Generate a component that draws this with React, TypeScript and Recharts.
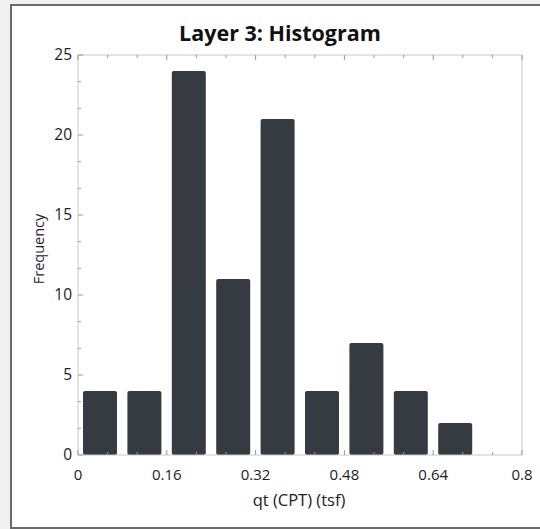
import React from "react";
import { BarChart, Bar, XAxis, YAxis } from "recharts";

// histogram bins (qt in tsf), bin width 0.08
const binCenters = [0.04, 0.12, 0.2, 0.28, 0.36, 0.44, 0.52, 0.6, 0.68, 0.76];
const frequency = [4, 4, 24, 11, 21, 4, 7, 4, 2, 0];
const xMajorTicks = [0, 0.16, 0.32, 0.48, 0.64, 0.8];
const yMajorTicks = [0, 5, 10, 15, 20, 25];

const data = binCenters.map((c, i) => ({ center: c, count: frequency[i] }));

// minor ticks sit at thirds between the majors
const withMinors = (majors: number[]) => {
  const out: number[] = [];
  majors.forEach((m, i) => {
    out.push(m);
    if (i < majors.length - 1) {
      const step = (majors[i + 1] - m) / 3;
      out.push(m + step, m + 2 * step);
    }
  });
  return out;
};
const xTicks = withMinors(xMajorTicks);
const yTicks = withMinors(yMajorTicks);

const FONT = "'Open Sans', sans-serif";
const TICK_COLOR = "#9a9a9a";

const isMajor = (v: number, majors: number[]) => majors.some((m) => Math.abs(m - v) < 1e-6);

function makeTick(side: "bottom" | "top" | "left" | "right") {
  return (props: any) => {
    const { x, y, payload } = props;
    const v = payload.value;
    const majors = side === "bottom" || side === "top" ? xMajorTicks : yMajorTicks;
    const major = isMajor(v, majors);
    const len = major ? 5 : 3;
    let line;
    if (side === "bottom") line = <line x1={x} x2={x} y1={y} y2={y - len} stroke={TICK_COLOR} />;
    else if (side === "top") line = <line x1={x} x2={x} y1={y} y2={y + len} stroke={TICK_COLOR} />;
    else if (side === "left") line = <line x1={x} x2={x + len} y1={y} y2={y} stroke={TICK_COLOR} />;
    else line = <line x1={x} x2={x - len} y1={y} y2={y} stroke={TICK_COLOR} />;
    let label = null;
    if (major && side === "bottom") {
      label = (
        <text x={x} y={y + 25} textAnchor="middle" fontSize={15} fontFamily={FONT} fill="#222">
          {String(Number(v.toFixed(2)))}
        </text>
      );
    } else if (major && side === "left") {
      label = (
        <text x={x - 6} y={y + 5} textAnchor="end" fontSize={15.5} fontFamily={FONT} fill="#222">
          {String(Math.round(v))}
        </text>
      );
    }
    return (
      <g>
        {line}
        {label}
      </g>
    );
  };
}

export default function App() {
  return (
    <div style={{ position: "fixed", left: 0, top: 0, width: 540, height: 529, background: "#f0f0f0", overflow: "hidden" }}>
      <div
        style={{
          position: "absolute",
          left: 10,
          top: 4,
          width: 540,
          height: 521,
          background: "#fff",
          borderLeft: "2px solid #6a6a6a",
          borderTop: "2px solid #6a6a6a",
          borderBottom: "2px solid #6a6a6a",
        }}
      />
      <div
        style={{
          position: "absolute",
          left: 280,
          top: 32,
          transform: "translate(-50%, -50%)",
          fontFamily: FONT,
          fontWeight: 700,
          fontSize: 21.5,
          color: "#111",
          whiteSpace: "nowrap",
        }}
      >
        Layer 3: Histogram
      </div>
      <div
        style={{
          position: "absolute",
          left: 38,
          top: 249,
          transform: "translate(-50%, -50%) rotate(-90deg)",
          fontFamily: FONT,
          fontSize: 14.5,
          color: "#2a2233",
          whiteSpace: "nowrap",
        }}
      >
        Frequency
      </div>
      <div
        style={{
          position: "absolute",
          left: 299,
          top: 499,
          transform: "translate(-50%, -50%)",
          fontFamily: FONT,
          fontSize: 16.5,
          color: "#222",
          whiteSpace: "nowrap",
        }}
      >
        qt (CPT) (tsf)
      </div>
      <div style={{ position: "absolute", left: 0, top: 0 }}>
        <BarChart width={540} height={529} data={data} margin={{ top: 54, right: 17, bottom: 73, left: 77 }}>
          <XAxis
            xAxisId="b"
            dataKey="center"
            type="number"
            domain={[0, 0.8]}
            ticks={xTicks}
            interval={0}
            height={1}
            tickSize={0}
            tickMargin={0}
            tickLine={false}
            axisLine={{ stroke: "#c8c8c8" }}
            tick={makeTick("bottom")}
          />
          <XAxis
            xAxisId="t"
            orientation="top"
            dataKey="center"
            type="number"
            domain={[0, 0.8]}
            ticks={xTicks}
            interval={0}
            height={1}
            tickSize={0}
            tickMargin={0}
            tickLine={false}
            axisLine={{ stroke: "#c8c8c8" }}
            tick={makeTick("top")}
          />
          <YAxis
            yAxisId="l"
            domain={[0, 25]}
            ticks={yTicks}
            interval={0}
            width={1}
            tickSize={0}
            tickMargin={0}
            tickLine={false}
            axisLine={{ stroke: "#c8c8c8" }}
            tick={makeTick("left")}
          />
          <YAxis
            yAxisId="r"
            orientation="right"
            domain={[0, 25]}
            ticks={yTicks}
            interval={0}
            width={1}
            tickSize={0}
            tickMargin={0}
            tickLine={false}
            axisLine={{ stroke: "#c8c8c8" }}
            tick={makeTick("right")}
          />
          <Bar
            xAxisId="b"
            yAxisId="l"
            dataKey="count"
            fill="#353b40"
            barSize={34}
            radius={[2, 2, 2, 2]}
            isAnimationActive={false}
          />
        </BarChart>
      </div>
    </div>
  );
}
